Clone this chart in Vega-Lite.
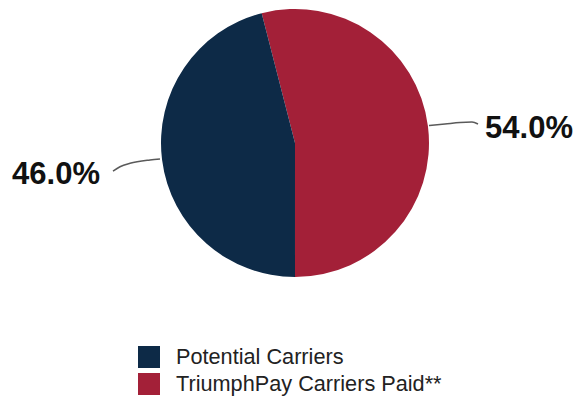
{
  "$schema": "https://vega.github.io/schema/vega-lite/v6.json",
  "width": 577,
  "height": 397,
  "padding": 0,
  "autosize": {"type": "none"},
  "background": "white",
  "config": {"view": {"stroke": null}, "font": "Liberation Sans"},
  "datasets": {
    "pie": [
      {"category": "TriumphPay Carriers Paid**", "value": 54.0, "ord": 1},
      {"category": "Potential Carriers", "value": 46.0, "ord": 2}
    ],
    "labels": [
      {"label": "54.0%", "lx": 1.7463, "ly": 0.1082},
      {"label": "46.0%", "lx": -1.7836, "ly": -0.2351}
    ],
    "leaders": [
      {"seg": "right", "i": 1, "lx": 1.0, "ly": 0.1306},
      {"seg": "right", "i": 2, "lx": 1.1194, "ly": 0.1418},
      {"seg": "right", "i": 3, "lx": 1.2313, "ly": 0.153},
      {"seg": "right", "i": 4, "lx": 1.3209, "ly": 0.1567},
      {"seg": "right", "i": 5, "lx": 1.3657, "ly": 0.1418},
      {"seg": "left", "i": 1, "lx": -1.0075, "ly": -0.1194},
      {"seg": "left", "i": 2, "lx": -1.0821, "ly": -0.1269},
      {"seg": "left", "i": 3, "lx": -1.2313, "ly": -0.1515},
      {"seg": "left", "i": 4, "lx": -1.306, "ly": -0.1769},
      {"seg": "left", "i": 5, "lx": -1.3582, "ly": -0.209}
    ]
  },
  "layer": [
    {
      "data": {"name": "pie"},
      "mark": {"type": "arc", "outerRadius": 134, "stroke": null},
      "encoding": {
        "x": {"datum": 0, "type": "quantitative", "scale": {"domain": [-2.2015, 2.1045], "nice": false, "zero": false}, "axis": null},
        "y": {"datum": 0, "type": "quantitative", "scale": {"domain": [-1.8955, 1.0672], "nice": false, "zero": false}, "axis": null},
        "theta": {"field": "value", "type": "quantitative", "stack": true, "scale": {"range": [-0.2513, 6.0319]}},
        "order": {"field": "ord", "type": "quantitative"},
        "color": {
          "field": "category",
          "type": "nominal",
          "scale": {"domain": ["Potential Carriers", "TriumphPay Carriers Paid**"], "range": ["#0d2a47", "#a32038"]},
          "legend": {
            "title": null,
            "orient": "none",
            "legendX": 138,
            "legendY": 346,
            "padding": 0,
            "symbolType": "square",
            "symbolSize": 484,
            "symbolStrokeWidth": 0,
            "symbolOpacity": 1,
            "labelFont": "Liberation Sans",
            "labelFontSize": 21.7,
            "labelColor": "#222222",
            "labelOffset": 16,
            "rowPadding": 4,
            "labelLimit": 400
          }
        }
      }
    },
    {
      "data": {"name": "leaders"},
      "mark": {"type": "line", "color": "#5a5a5a", "strokeWidth": 1.5, "interpolate": "monotone"},
      "encoding": {
        "x": {"field": "lx", "type": "quantitative"},
        "y": {"field": "ly", "type": "quantitative"},
        "detail": {"field": "seg"},
        "order": {"field": "i", "type": "quantitative"}
      }
    },
    {
      "data": {"name": "labels"},
      "mark": {"type": "text", "font": "Liberation Sans", "fontWeight": "bold", "fontSize": 31, "color": "#111111", "align": "center", "baseline": "middle"},
      "encoding": {
        "x": {"field": "lx", "type": "quantitative"},
        "y": {"field": "ly", "type": "quantitative"},
        "text": {"field": "label"}
      }
    }
  ]
}
